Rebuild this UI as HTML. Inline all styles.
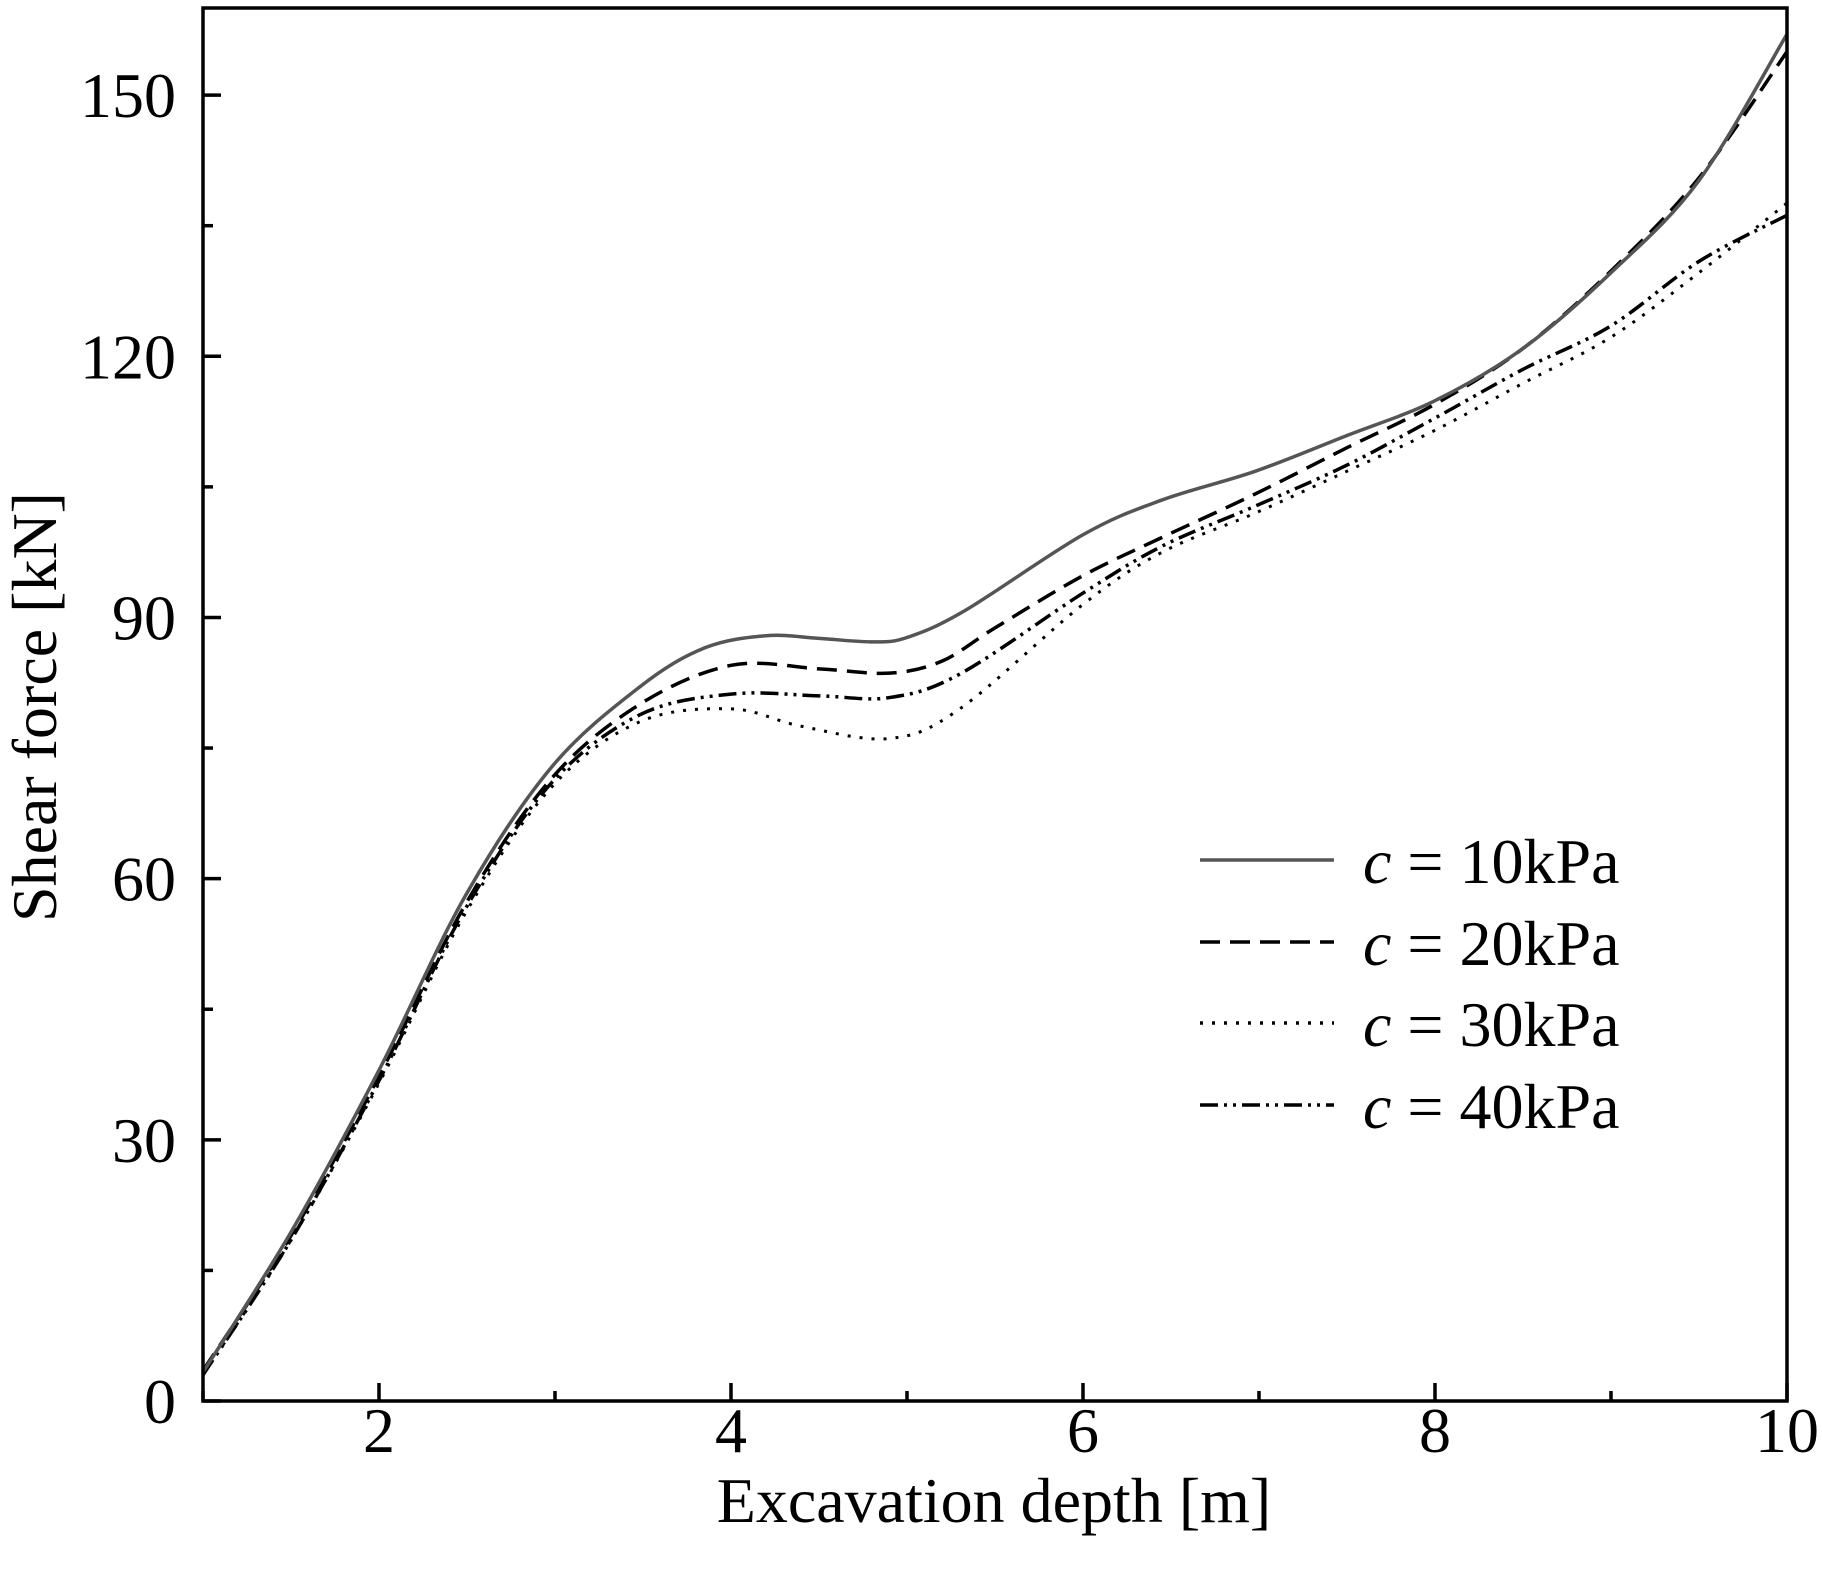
<!DOCTYPE html>
<html><head><meta charset="utf-8"><style>
html,body{margin:0;padding:0;background:#fff}
svg{display:block;font-family:"Liberation Serif",serif}
</style></head><body>
<svg id="s" width="1822" height="1576" viewBox="0 0 1822 1576">
<g id="curves" fill="none"></g>
<rect x="203" y="8" width="1584" height="1393" fill="none" stroke="#000" stroke-width="3.5"/>
<g id="ticks" stroke="#000" stroke-width="3.5"></g>
<g id="labels" font-size="64" fill="#000"></g>
<text x="994" y="1522" font-size="64" text-anchor="middle">Excavation depth [m]</text>
<text transform="translate(56,707) rotate(-90)" font-size="64" text-anchor="middle">Shear force [kN]</text>
<g stroke-width="3.5">
<line x1="1200" y1="860" x2="1334" y2="860" stroke="#555"/>
<line x1="1200" y1="942" x2="1334" y2="942" stroke="#000" stroke-dasharray="20,10"/>
<line x1="1200" y1="1023" x2="1334" y2="1023" stroke="#000" stroke-dasharray="3,9"/>
<line x1="1200" y1="1105" x2="1334" y2="1105" stroke="#000" stroke-dasharray="18,6,3,6,3,6"/>
</g>
<g font-size="64">
<text x="1363" y="883"><tspan font-style="italic">c</tspan> = 10kPa</text>
<text x="1363" y="965"><tspan font-style="italic">c</tspan> = 20kPa</text>
<text x="1363" y="1046"><tspan font-style="italic">c</tspan> = 30kPa</text>
<text x="1363" y="1128"><tspan font-style="italic">c</tspan> = 40kPa</text>
</g>
</svg>
<script>
var X=function(v){return 203+(v-1)*176;},Y=function(v){return 1401-v*8.706;};
var ns="http://www.w3.org/2000/svg";
function el(t,a,p){var e=document.createElementNS(ns,t);for(var k in a)e.setAttribute(k,a[k]);p.appendChild(e);return e;}
var T=document.getElementById('ticks'),L=document.getElementById('labels');
for(var i=1;i<=10;i++){var x=X(i);var maj=(i%2==0);el('line',{x1:x,y1:1401,x2:x,y2:1401-(maj?18:10)},T);
 if(maj){var t=el('text',{x:x,y:1452,'text-anchor':'middle'},L);t.textContent=i;}}
for(var v=0;v<=160;v+=15){var y=Y(v);var maj=(v%30==0);el('line',{x1:203,y1:y,x2:203+(maj?18:10),y2:y},T);
 if(maj){var t=el('text',{x:176,y:y+22,'text-anchor':'end'},L);t.textContent=v;}}
var S={
a:[[1,3.3],[1.5,19.4],[2,38],[2.49,58],[2.98,72.8],[3.48,82],[3.85,86.5],[4.2,87.9],[4.5,87.6],[4.8,87.2],[5,87.7],[5.33,90.8],[6,99.5],[6.45,103.5],[6.98,106.8],[7.5,110.9],[8,114.9],[8.5,120.9],[9,129.6],[9.5,140.2],[10,157]],
b:[[1,3.5],[1.5,19],[2,37.3],[2.49,57],[2.98,71.5],[3.48,80],[4,84.5],[4.5,84.1],[4.9,83.6],[5.2,85],[5.5,88.8],[6,94.8],[6.45,99.2],[6.98,104.2],[7.5,109.5],[8,114.5],[8.5,120.9],[9,129.8],[9.5,140.5],[10,155]],
c:[[1,3],[1.5,18.5],[2,36.5],[2.49,56],[2.98,70.5],[3.48,78],[4,79.5],[4.4,77.5],[4.9,76.1],[5.3,79.5],[6,91.5],[6.45,97.5],[6.98,102],[7.5,106.8],[8,111.5],[8.5,116.9],[9,122.2],[9.5,129.6],[10,137.6]],
d:[[1,3],[1.5,18.5],[2,36.8],[2.49,56.5],[2.98,71],[3.48,78.8],[4,81.2],[4.5,81],[4.9,80.8],[5.3,83.5],[6,92.8],[6.45,98.2],[6.98,102.8],[7.5,107.5],[8,112.9],[8.5,118.5],[9,123.5],[9.5,130.9],[10,136.2]]};
function path(p){var q=p.map(function(a){return [X(a[0]),Y(a[1])];});var d='M'+q[0][0]+','+q[0][1];
 for(var i=0;i<q.length-1;i++){var p0=q[i-1]||q[i],p1=q[i],p2=q[i+1],p3=q[i+2]||p2;
 d+='C'+(p1[0]+(p2[0]-p0[0])/6)+','+(p1[1]+(p2[1]-p0[1])/6)+' '+(p2[0]-(p3[0]-p1[0])/6)+','+(p2[1]-(p3[1]-p1[1])/6)+' '+p2[0]+','+p2[1];}
 return d;}
var C=document.getElementById('curves');
el('path',{d:path(S.c),stroke:'#000','stroke-width':3,'stroke-dasharray':'3,9'},C);
el('path',{d:path(S.d),stroke:'#000','stroke-width':3.5,'stroke-dasharray':'18,6,3,6,3,6'},C);
el('path',{d:path(S.b),stroke:'#000','stroke-width':3.5,'stroke-dasharray':'20,10'},C);
el('path',{d:path(S.a),stroke:'#555','stroke-width':3.5},C);
</script>
</body></html>
